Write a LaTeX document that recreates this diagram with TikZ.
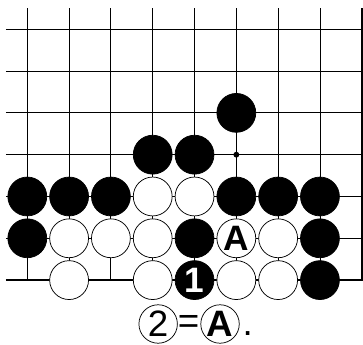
\documentclass[tikz,border=0pt]{standalone}
\usepackage{fontspec}
\setmainfont{Liberation Sans}
\begin{document}
\begin{tikzpicture}[
  x=1cm, y=1cm,
  line join=miter,
  grid/.style={line width=0.6pt},
  edge/.style={line width=1.4pt},
  bstone/.style={circle, draw=black, fill=black, line width=0.5pt,
    minimum size=0.93cm, inner sep=0pt},
  wstone/.style={circle, draw=black, fill=white, line width=0.5pt,
    minimum size=0.93cm, inner sep=0pt},
  lbl/.style={font=\fontsize{24}{26}\selectfont\bfseries},
  tcirc/.style={circle, draw=black, line width=0.5pt,
    minimum size=0.92cm, inner sep=0pt, font=\fontsize{25}{26}\selectfont}
]
  \useasboundingbox (-0.653,-1.531) rectangle (8.03,6.70);

  % Линии доски
  \foreach \i in {0,...,7}
    \draw[grid] (\i,0) -- (\i,6.51);
  \foreach \j in {1,...,6}
    \draw[grid] (-0.51,\j) -- (8,\j);

  % Края доски
  \draw[edge] (-0.51,0) -- (8,0) -- (8,6.51);

  % Точка
  \fill (5,3) circle (0.07);

  % Чёрные камни
  \foreach \x/\y in {5/4, 3/3, 4/3, 0/2, 1/2, 2/2, 5/2, 6/2, 7/2,
                     0/1, 4/1, 7/1, 4/0, 7/0}
    \node[bstone] (b\x\y) at (\x,\y) {};

  % Белые камни
  \foreach \x/\y in {3/2, 4/2, 1/1, 2/1, 3/1, 5/1, 6/1,
                     1/0, 3/0, 5/0, 6/0}
    \node[wstone] (w\x\y) at (\x,\y) {};

  % Метки
  \node[lbl] (markA) at (w51) {A};
  \node[lbl, text=white] (move1) at (b40) {1};

  % Подпись
  \node[tcirc] (two) at (3.13,-1.05) {2};
  \node[inner sep=0pt, font=\fontsize{25}{26}\selectfont] (eq) at (3.86,-1.05) {=};
  \node[tcirc, font=\fontsize{25}{26}\selectfont\bfseries] (capA) at (4.61,-1.05) {A};
  \node[inner sep=0pt, font=\fontsize{25}{26}\selectfont] (dot) at (5.27,-1.27) {.};
\end{tikzpicture}
\end{document}
